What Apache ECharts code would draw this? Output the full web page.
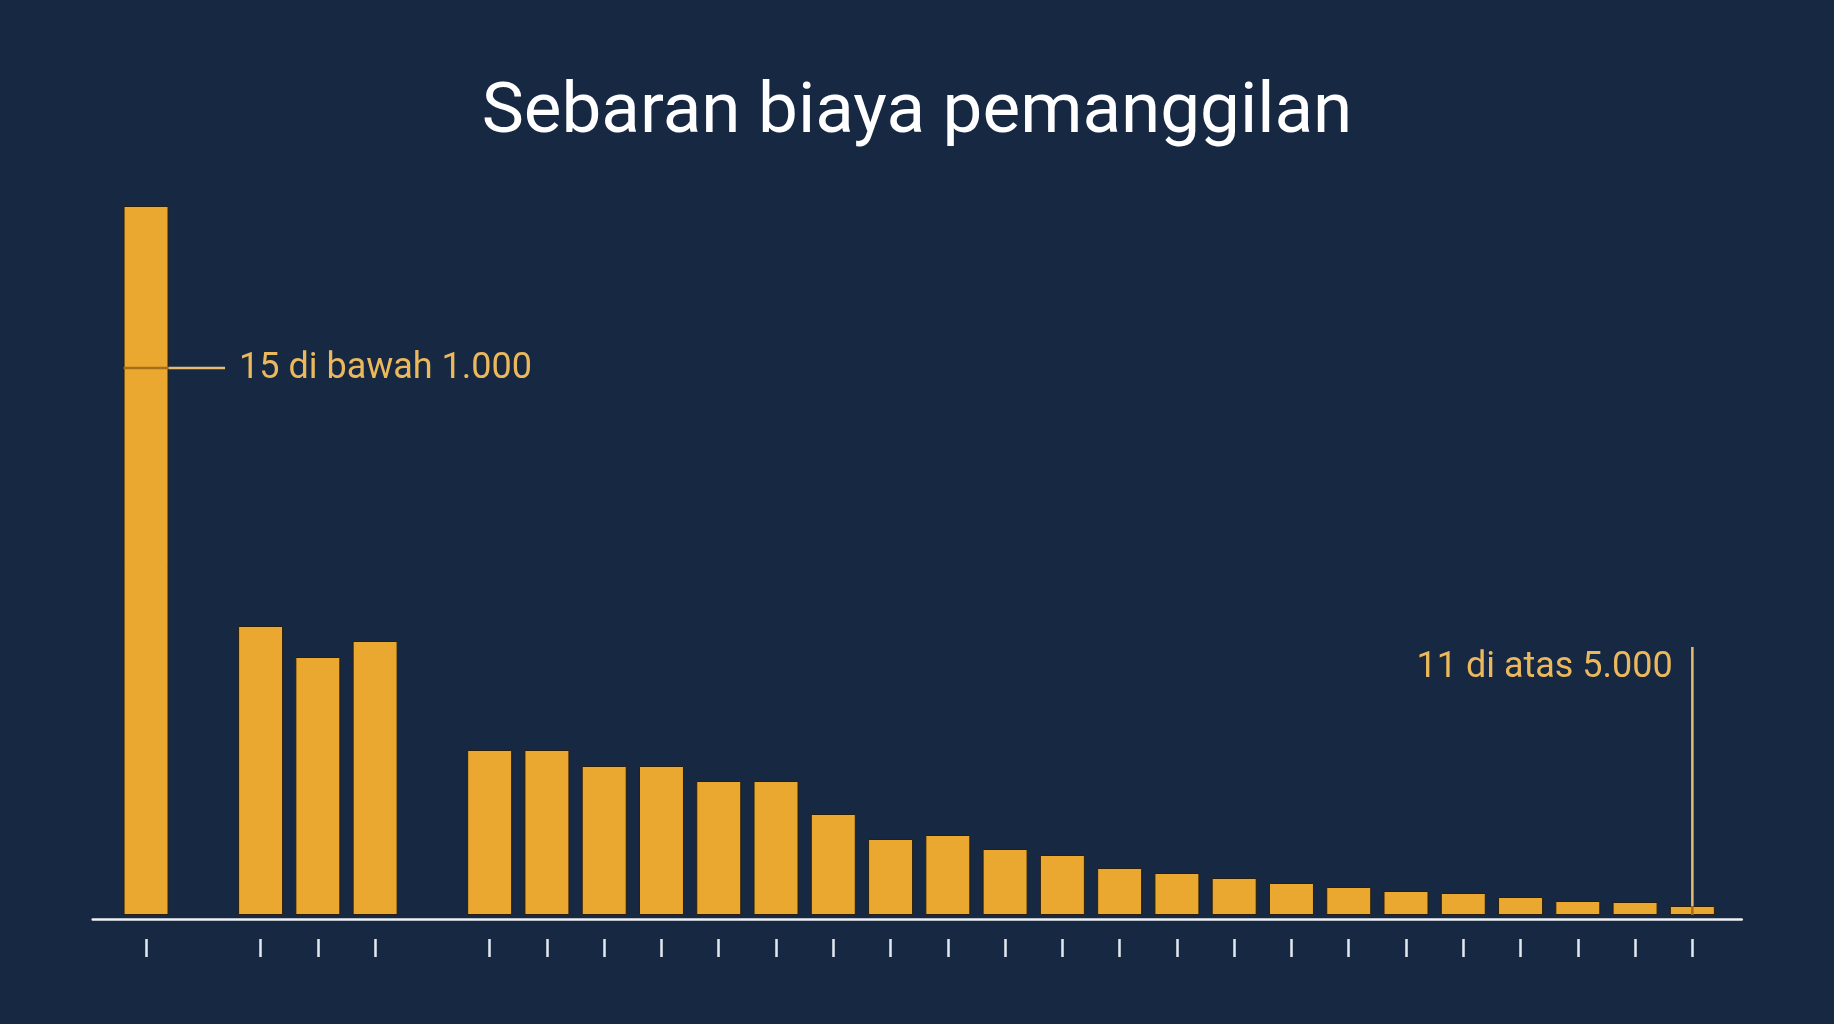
<!DOCTYPE html>
<html>
<head>
<meta charset="utf-8">
<script src="https://cdn.jsdelivr.net/npm/echarts@6/dist/echarts.min.js"></script>
<style>
html,body{margin:0;padding:0;background:#172842;}
#c{width:1834px;height:1024px;}
</style>
</head>
<body>
<div id="c"></div>
<script>
// ---- data ----
const titleText = 'Sebaran biaya pemanggilan';
const categories = ['<1.000', 'gap-a', 'k2', 'k3', 'k4', 'gap-b',
  'k6', 'k7', 'k8', 'k9', 'k10', 'k11', 'k12', 'k13', 'k14', 'k15', 'k16',
  'k17', 'k18', 'k19', 'k20', 'k21', 'k22', 'k23', 'k24', 'k25', 'k26', '>5.000'];
const values = [709, null, 289, 258, 274, null,
  165, 165, 149, 149, 134, 134, 101, 76, 80, 66, 60,
  47, 42, 37, 32, 28, 24, 22, 18, 14, 13, 9];
const lowNote = { text: '15 di bawah 1.000', category: 0, value: 547 };
const highNote = { text: '11 di atas 5.000', category: 27, value: 268 };

// ---- styles ----
const BG = '#172842';
const BAR = '#eba830';
const NOTE_TEXT = '#ecb85c';
const NOTE_LINE = '#e6bb72';
const NOTE_LINE_ON_BAR = '#a66e18';
const BAR_W = 45;
const FONT = 'Roboto';

const chart = echarts.init(document.getElementById('c'), null, { renderer: 'canvas' });

const option = {
  backgroundColor: BG,
  animation: false,
  title: {
    text: titleText,
    left: 'center',
    top: 74,
    textStyle: { color: '#ffffff', fontSize: 71, fontWeight: 'normal', fontFamily: FONT }
  },
  grid: [
    { left: 117.4, width: 1603.6, top: 115, bottom: 109, outerBoundsMode: 'none', containLabel: false },
    { left: 92.7, right: 92.3, bottom: 104.7, height: 10, outerBoundsMode: 'none', containLabel: false }
  ],
  xAxis: [
    {
      type: 'category', gridIndex: 0, data: categories,
      axisLine: { show: false }, axisTick: { show: false }, axisLabel: { show: false }
    },
    {
      type: 'category', gridIndex: 0, data: categories, position: 'bottom', offset: 24,
      axisLine: { show: false },
      axisTick: {
        show: true, alignWithLabel: true, length: 18,
        interval: function (i) { return values[i] != null; },
        lineStyle: { color: '#e4e9ef', width: 2.5 }
      },
      axisLabel: { show: false }
    },
    {
      type: 'value', gridIndex: 1, min: 0, max: 1,
      axisLine: { show: true, onZero: false, lineStyle: { color: '#eef1f5', width: 2.5 } },
      axisTick: { show: false }, axisLabel: { show: false }, splitLine: { show: false }
    }
  ],
  yAxis: [
    { type: 'value', gridIndex: 0, min: 0, max: 800, show: false },
    { type: 'value', gridIndex: 1, min: 0, max: 1, show: false }
  ],
  series: [{
    type: 'bar', xAxisIndex: 0, yAxisIndex: 0, data: values, barWidth: BAR_W,
    silent: true,
    itemStyle: { color: BAR, borderColor: '#2a1f0c', borderWidth: 1 }
  }]
};
chart.setOption(option);

// ---- annotations positioned through the chart's own scales ----
const f = { xAxisIndex: 0, yAxisIndex: 0 };
const lowPt = chart.convertToPixel(f, [lowNote.category, lowNote.value]);
const highTop = chart.convertToPixel(f, [highNote.category, highNote.value]);
const highBarTop = chart.convertToPixel(f, [highNote.category, values[highNote.category]]);
const highBase = chart.convertToPixel(f, [highNote.category, 0]);
const half = BAR_W / 2;

chart.setOption({
  graphic: [
    { type: 'line', z: 100, shape: { x1: lowPt[0] - half, y1: lowPt[1], x2: lowPt[0] + half, y2: lowPt[1] },
      style: { stroke: NOTE_LINE_ON_BAR, lineWidth: 2.5 } },
    { type: 'line', z: 100, shape: { x1: lowPt[0] + half, y1: lowPt[1], x2: lowPt[0] + 79, y2: lowPt[1] },
      style: { stroke: NOTE_LINE, lineWidth: 2.5 } },
    { type: 'text', z: 100, x: lowPt[0] + 93, y: lowPt[1] + 1,
      style: { text: lowNote.text, fill: NOTE_TEXT, font: '36px ' + FONT, align: 'left', verticalAlign: 'middle' } },
    { type: 'line', z: 100, shape: { x1: highTop[0], y1: highTop[1], x2: highTop[0], y2: highBarTop[1] },
      style: { stroke: NOTE_LINE, lineWidth: 2.5 } },
    { type: 'line', z: 100, shape: { x1: highTop[0], y1: highBarTop[1], x2: highTop[0], y2: highBase[1] },
      style: { stroke: NOTE_LINE_ON_BAR, lineWidth: 2.5 } },
    { type: 'text', z: 100, x: highTop[0] - 19.6, y: highTop[1] + 20.5,
      style: { text: highNote.text, fill: NOTE_TEXT, font: '36px ' + FONT, align: 'right', verticalAlign: 'middle' } }
  ]
});
</script>
</body>
</html>
